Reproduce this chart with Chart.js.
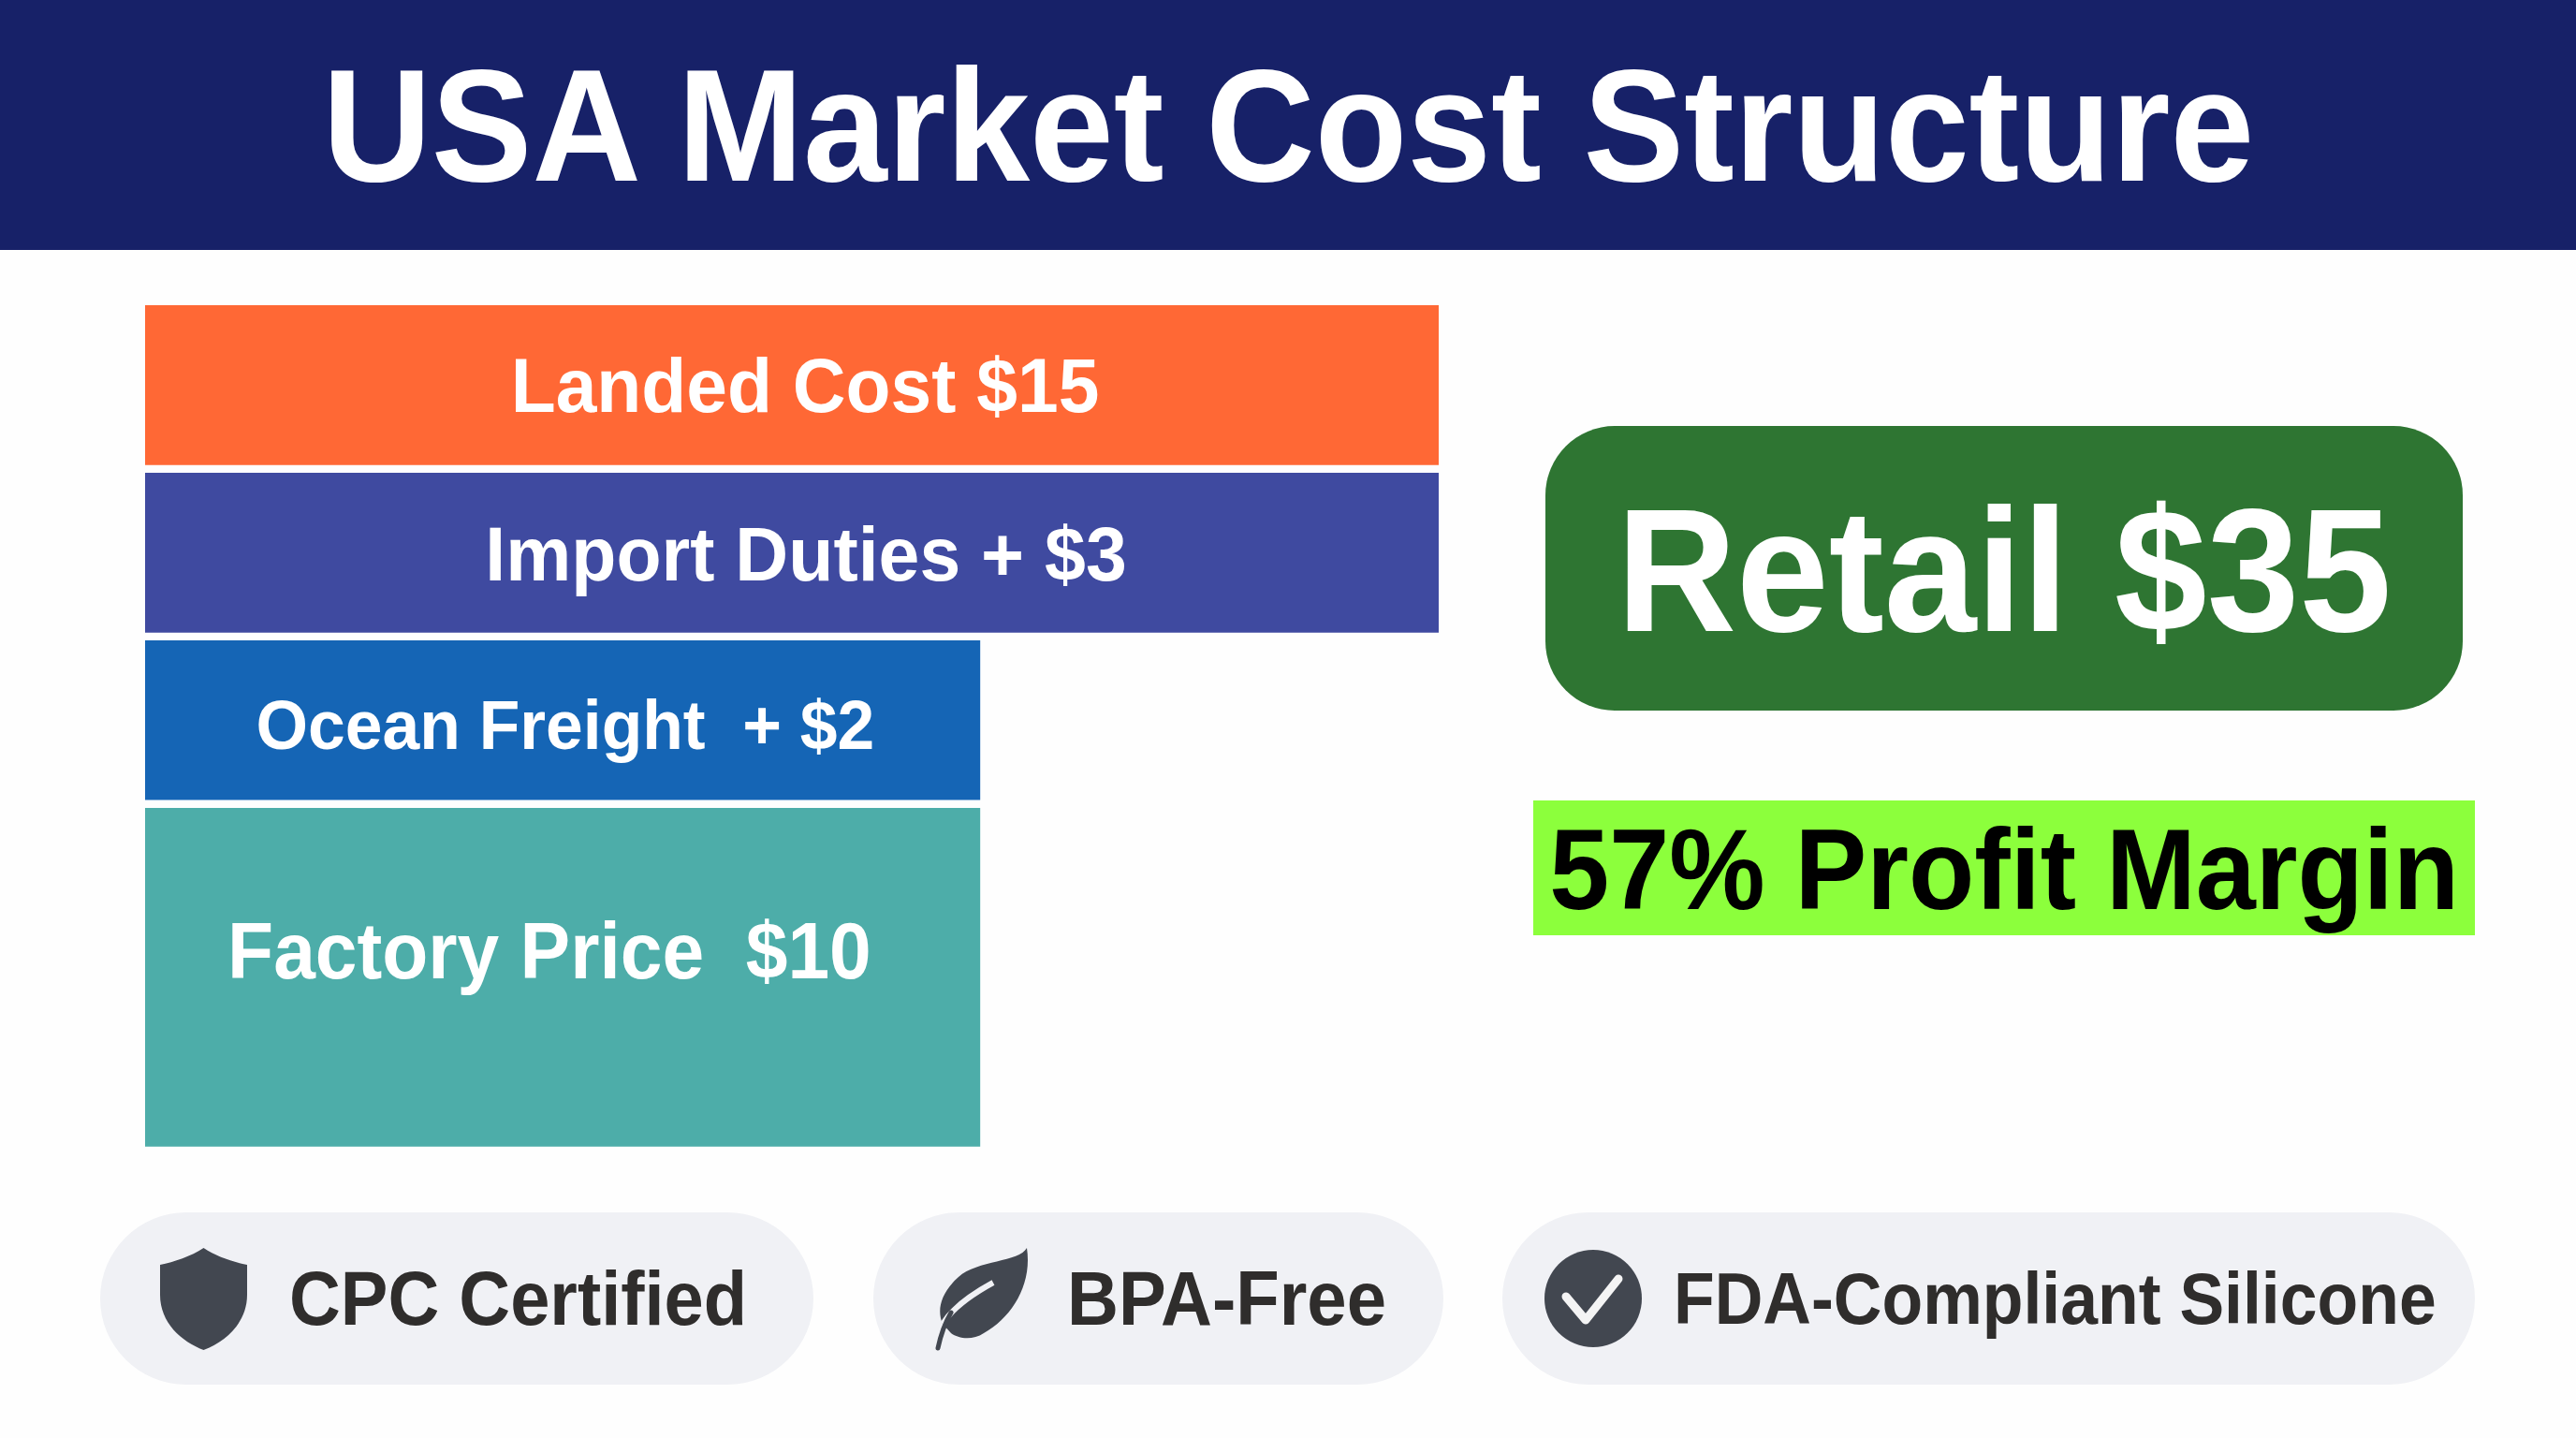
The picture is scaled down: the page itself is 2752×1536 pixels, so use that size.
<!DOCTYPE html>
<html>
<head>
<meta charset="utf-8">
<title>USA Market Cost Structure</title>
<script src="https://cdn.jsdelivr.net/npm/chart.js@4/dist/chart.umd.js"></script>
<style>
	html, body { margin: 0; padding: 0; background: #fefefe; }
	body { position: relative; width: 2752px; height: 1536px; overflow: hidden; font-family: "Liberation Sans", Arial, sans-serif; font-weight: 700; }
	.box { position: absolute; display: flex; align-items: center; justify-content: center; box-sizing: border-box; white-space: pre; }
	.box span { display: inline-block; transform: scaleX(0.943); }
	#header { left: 0; top: 0; width: 2752px; height: 267px; background: #172168; color: #fff; font-size: 171px; }
	#retail { left: 1651px; top: 455px; width: 980px; height: 304px; padding-top: 3px; border-radius: 74px; background: #2e7532; color: #fff; font-size: 188px; }
	#margin { left: 1638px; top: 855px; width: 1006px; height: 144px; padding-top: 3px; background: #8cff3c; color: #000; font-size: 122px; }
	.pill { position: absolute; top: 1295px; height: 184px; border-radius: 92px; background: #f0f1f5; }
	.pillText { position: absolute; top: 1295px; height: 184px; line-height: 184px; color: #2f2d2c; white-space: pre; transform-origin: left center; }
	.pill svg { position: absolute; }
	#chartWrap { position: absolute; left: 155px; top: 322px; width: 1382px; height: 907px; }
</style>
</head>
<body>
<div class="box" id="header"><span>USA Market Cost Structure</span></div>

<div id="chartWrap"><canvas id="costChart" width="1382" height="907"></canvas></div>

<div class="box" id="retail"><span>Retail $35</span></div>
<div class="box" id="margin"><span>57% Profit Margin</span></div>

<div class="pill" style="left:107px;width:762px">
	<svg style="left:64px;top:38px" width="93" height="109" viewBox="0 0 93 109">
		<path fill="#424750" d="M46.5 0 C60 9 78 15 93 18 L93 50 C93 80 70 100 46.5 109 C23 100 0 80 0 50 L0 18 C15 15 33 9 46.5 0 Z"/>
	</svg>
</div>
<div class="pill" style="left:933px;width:609px">
	<svg style="left:66px;top:37px" width="100" height="111" viewBox="0 0 100 111">
		<path fill="#424750" d="M98 1 C90 16 45 14 25 32 C5 50 2 68 8 82 L17 92 C25 98 40 100 52 92 C82 75 104 40 98 1 Z"/>
		<path fill="none" stroke="#f0f1f5" stroke-width="6" d="M62 38 C40 50 18 66 8 82"/>
		<path fill="none" stroke="#424750" stroke-width="5" stroke-linecap="round" d="M3 108 C6 94 10 82 17 70"/>
	</svg>
</div>
<div class="pill" style="left:1605px;width:1039px">
	<svg style="left:45px;top:40px" width="104" height="104" viewBox="0 0 104 104">
		<circle cx="52" cy="52" r="52" fill="#424750"/>
		<path fill="none" stroke="#f4f4f4" stroke-width="9" stroke-linecap="round" stroke-linejoin="round" d="M23 50 L44 75 L79 31"/>
	</svg>
</div>
<div class="pillText" style="left:309px;font-size:81px;transform:scaleX(0.937)">CPC Certified</div>
<div class="pillText" style="left:1140px;font-size:81px;transform:scaleX(0.939)">BPA-Free</div>
<div class="pillText" style="left:1788px;font-size:77px;transform:scaleX(0.929)">FDA-Compliant Silicone</div>

<script>
const categories = ["Landed Cost", "Import Duties", "Ocean Freight", "Factory Price"];
const barValues = [15, 15, 9.68, 9.68];
const barLabels = ["Landed Cost $15", "Import Duties + $3", "Ocean Freight  + $2", "Factory Price  $10"];

const barColors = ["#ff6835", "#3f4aa0", "#1565b5", "#4dada9"];

// category scale whose rows can be taller than one slot
class RowScale extends Chart.CategoryScale {
	static id = "rows";
	static defaults = {};
	getPixelForValue(value) {
		const weights = this.options.rowWeights;
		const total = weights.reduce((a, b) => a + b, 0);
		let before = 0;
		for (let i = 0; i < value; i++) before += weights[i];
		return this.top + ((before + weights[value] / 2) / total) * this.height;
	}
}
Chart.register(RowScale);

// writes the white text on each bar
const barTextPlugin = {
	id: "barText",
	afterDatasetsDraw(chart, args, options) {
		const ctx = chart.ctx;
		chart.data.datasets.forEach((ds, d) => {
			chart.getDatasetMeta(d).data.forEach((bar, i) => {
				if (ds.data[i] === null) return;
				const base = chart.scales.x.getPixelForValue(0);
				ctx.save();
				ctx.fillStyle = "#fff";
				ctx.textAlign = "center";
				ctx.textBaseline = "alphabetic";
				ctx.font = "700 " + options.sizes[i] + "px 'Liberation Sans'";
				ctx.translate((base + bar.x) / 2 + options.dx[i], bar.y + options.dy[i]);
				ctx.scale(options.squeeze[i], 1);
				ctx.fillText(barLabels[i], 0, 0);
				ctx.restore();
			});
		});
	},
};

new Chart(document.getElementById("costChart").getContext("2d"), {
	type: "bar",
	data: {
		labels: categories,
		datasets: [
			{
				data: barValues.map((v, i) => (i < 3 ? v : null)),
				backgroundColor: barColors,
				barThickness: 170,
			},
			{
				data: barValues.map((v, i) => (i === 3 ? v : null)),
				backgroundColor: barColors,
				barThickness: 361,
			},
		],
	},
	options: {
		indexAxis: "y",
		responsive: false,
		animation: false,
		layout: { padding: 0 },
		scales: {
			x: { display: false, min: 0, max: 15, stacked: true },
			y: { type: "rows", display: false, stacked: true, rowWeights: [1, 1, 1, 2.07] },
		},
		plugins: {
			legend: { display: false },
			tooltip: { enabled: false },
			barText: {
				sizes: [81, 81, 75, 85],
				squeeze: [0.97, 0.973, 0.952, 0.945],
				dx: [14, 15, 3, -14],
				dy: [29, 30, 31, 1],
			},
		},
	},
	plugins: [barTextPlugin],
});
</script>
</body>
</html>
